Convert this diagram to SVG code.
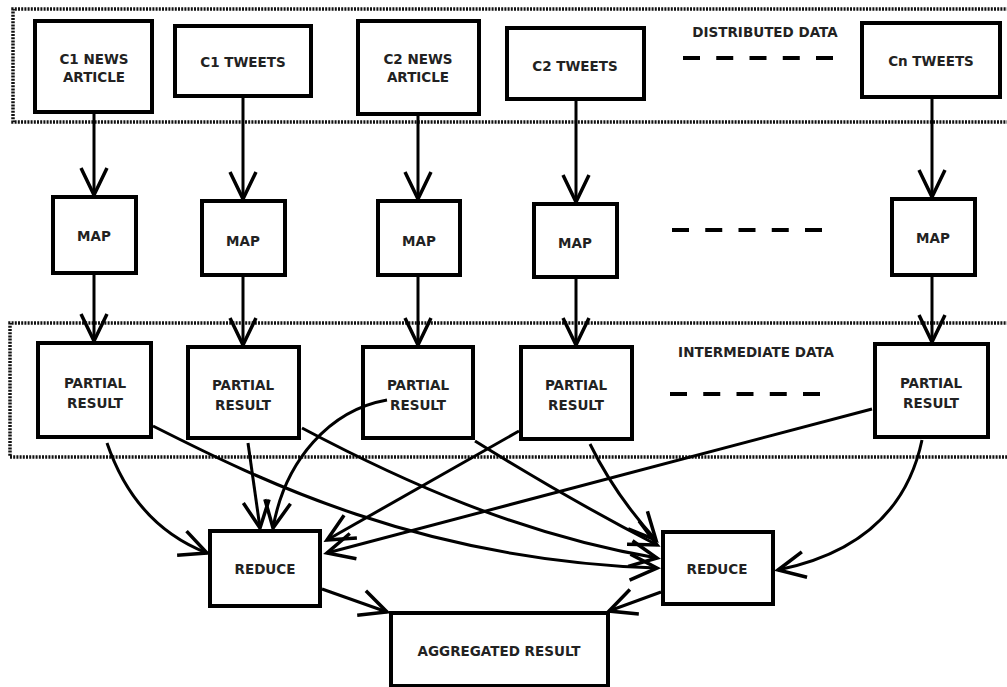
<svg xmlns="http://www.w3.org/2000/svg" width="1007" height="687" viewBox="0 0 1007 687">
<style>
.box{fill:#fff;stroke:#000;stroke-width:4}
.frame{fill:none;stroke:#111;stroke-width:3.5;stroke-dasharray:2 1.2}
.t{font-family:"DejaVu Sans",sans-serif;font-weight:bold;font-size:13.5px;fill:#222;text-anchor:middle}
.c{fill:none;stroke:#000;stroke-width:3;marker-end:url(#ah)}
.dash{stroke:#000;stroke-width:4;stroke-dasharray:17 16.25}
</style>
<defs>
<marker id="ah" markerUnits="userSpaceOnUse" viewBox="-32 -16 36 32" refX="0" refY="0" markerWidth="36" markerHeight="32" orient="auto">
<path d="M-27,-13 L0,0 L-27,13" fill="none" stroke="#000" stroke-width="3.5"/>
</marker>
</defs>
<rect width="1007" height="687" fill="#fff"/>
<g id="frames">
<path class="frame" d="M1012,9 L13,9 L13,122 L1012,122"/>
<path class="frame" d="M1012,323 L10,323 L10,457 L1012,457"/>
</g>
<g id="connectors">
<line class="c" x1="94" y1="112" x2="94" y2="195"/>
<line class="c" x1="243" y1="96" x2="243" y2="199"/>
<line class="c" x1="418" y1="114" x2="418" y2="199"/>
<line class="c" x1="576" y1="99" x2="576" y2="202"/>
<line class="c" x1="932" y1="97" x2="932" y2="197"/>
<line class="c" x1="94" y1="273" x2="94" y2="341"/>
<line class="c" x1="243" y1="275" x2="243" y2="345"/>
<line class="c" x1="418" y1="275" x2="418" y2="345"/>
<line class="c" x1="576" y1="277" x2="576" y2="345"/>
<line class="c" x1="932" y1="275" x2="932" y2="342"/>
<path class="c" d="M107,443 Q135,525 207,553"/>
<path class="c" d="M153,426 C260,480 420,560 657,568"/>
<path class="c" d="M248,443 L260,528"/>
<path class="c" d="M387,400 C330,410 285,460 273,528"/>
<path class="c" d="M302,428 C400,480 520,535 657,558"/>
<path class="c" d="M475,441 Q570,500 657,545"/>
<path class="c" d="M519,431 L327,540"/>
<path class="c" d="M590,444 Q615,495 656,540"/>
<path class="c" d="M872,409 L327,553"/>
<path class="c" d="M922,440 Q900,545 778,570"/>
<path class="c" d="M322,589 L387,612"/>
<path class="c" d="M661,592 L609,611"/>
</g>
<g id="dashes">
<line class="dash" x1="683" y1="58" x2="833" y2="58"/>
<line class="dash" x1="672" y1="230" x2="824" y2="230"/>
<line class="dash" x1="670" y1="394" x2="822" y2="394"/>
</g>
<g id="c1news"><rect class="box" x="35" y="21" width="117" height="91"/><text class="t" x="94" y="64">C1 NEWS</text><text class="t" x="94" y="82">ARTICLE</text></g>
<g id="c1tweets"><rect class="box" x="175" y="26" width="136" height="70"/><text class="t" x="243" y="67">C1 TWEETS</text></g>
<g id="c2news"><rect class="box" x="358" y="21" width="121" height="93"/><text class="t" x="418" y="64">C2 NEWS</text><text class="t" x="418" y="82">ARTICLE</text></g>
<g id="c2tweets"><rect class="box" x="507" y="28" width="137" height="71"/><text class="t" x="575" y="71">C2 TWEETS</text></g>
<g id="distlabel"><text class="t" x="765" y="37">DISTRIBUTED DATA</text></g>
<g id="cntweets"><rect class="box" x="862" y="23" width="138" height="74"/><text class="t" x="931" y="66">Cn TWEETS</text></g>
<g id="map1"><rect class="box" x="53" y="197" width="83" height="76"/><text class="t" x="94" y="241">MAP</text></g>
<g id="map2"><rect class="box" x="202" y="201" width="83" height="74"/><text class="t" x="243" y="246">MAP</text></g>
<g id="map3"><rect class="box" x="378" y="201" width="82" height="74"/><text class="t" x="419" y="246">MAP</text></g>
<g id="map4"><rect class="box" x="534" y="204" width="83" height="73"/><text class="t" x="575" y="248">MAP</text></g>
<g id="map5"><rect class="box" x="892" y="199" width="83" height="76"/><text class="t" x="933" y="243">MAP</text></g>
<g id="pr1"><rect class="box" x="38" y="343" width="113" height="94"/><text class="t" x="95" y="388">PARTIAL</text><text class="t" x="95" y="408">RESULT</text></g>
<g id="pr2"><rect class="box" x="188" y="347" width="111" height="91"/><text class="t" x="243" y="390">PARTIAL</text><text class="t" x="243" y="410">RESULT</text></g>
<g id="pr3"><rect class="box" x="363" y="347" width="110" height="91" style="fill:none"/><text class="t" x="418" y="390">PARTIAL</text><text class="t" x="418" y="410">RESULT</text></g>
<g id="pr4"><rect class="box" x="521" y="347" width="111" height="92"/><text class="t" x="576" y="390">PARTIAL</text><text class="t" x="576" y="410">RESULT</text></g>
<g id="interlabel"><text class="t" x="756" y="357">INTERMEDIATE DATA</text></g>
<g id="pr5"><rect class="box" x="875" y="344" width="113" height="93"/><text class="t" x="931" y="388">PARTIAL</text><text class="t" x="931" y="408">RESULT</text></g>
<g id="reduce1"><rect class="box" x="210" y="531" width="110" height="75"/><text class="t" x="265" y="574">REDUCE</text></g>
<g id="reduce2"><rect class="box" x="663" y="532" width="110" height="72"/><text class="t" x="717" y="574">REDUCE</text></g>
<g id="aggregated"><rect class="box" x="391" y="613" width="217" height="73"/><text class="t" x="499" y="656">AGGREGATED RESULT</text></g>
</svg>
